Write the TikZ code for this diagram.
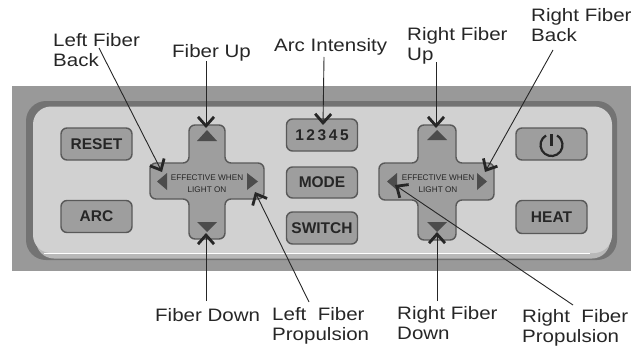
\documentclass[tikz,border=0pt]{standalone}
\usepackage{fontspec}
\setmainfont{Liberation Sans}
\newfontfamily\calloutfont[FakeStretch=1.14]{Liberation Sans}
\usetikzlibrary{arrows.meta}
\definecolor{panelgray}{gray}{0.6}
\definecolor{facegray}{gray}{0.82}
\definecolor{keygray}{gray}{0.62}
\definecolor{edgegray}{gray}{0.35}
\tikzset{
	keybox/.style={draw=edgegray,line width=1.4pt,fill=keygray,rounded corners=6pt,inner sep=0pt,font=\bfseries\fontsize{15.5}{15.5}\selectfont,text=black!85},
	callout/.style={font=\calloutfont\fontsize{18}{20}\selectfont,align=left,inner sep=0pt,text=black!85},
	pointer/.style={-{Straight Barb[length=9pt,width=16pt,line width=2.8pt]},line width=0.9pt,black!85},
	padtri/.style={fill=black!70,draw=none},
	padtext/.style={font=\fontsize{8.2}{12}\selectfont,align=center,inner sep=0pt,text=black!85}
}
\begin{document}
\begin{tikzpicture}[x=1pt,y=-1pt]
	\useasboundingbox (0,0) rectangle (631,345);

	% panel
	\fill[panelgray] (12,86) rectangle (631,271);
	\fill[black!55,rounded corners=20pt] (26,101) rectangle (617,260);
	\fill[black!28,rounded corners=18pt] (36,110) rectangle (610,258.5);
	\fill[facegray,rounded corners=18pt] (33,106.5) rectangle (612,253);
	\draw[white,line width=0.8pt] (44,253.5) -- (590,253.5);

	% buttons
	\node[keybox,minimum width=71pt,minimum height=32pt] (reset) at (96.5,144) {RESET};
	\node[keybox,minimum width=71pt,minimum height=32pt] (arc) at (96.5,216.5) {ARC};
	\node[keybox,minimum width=71pt,minimum height=32pt] (intensity) at (322,135) {1\,2\,3\,4\,5};
	\node[keybox,minimum width=71pt,minimum height=31pt] (mode) at (322,182.5) {MODE};
	\node[keybox,minimum width=71pt,minimum height=32pt] (switch) at (322,228) {SWITCH};
	\node[keybox,minimum width=71pt,minimum height=32pt] (power) at (551.5,144) {};
	\node[keybox,minimum width=71pt,minimum height=33pt] (heat) at (551.5,217) {HEAT};

	% power symbol
	\draw[line width=2.2pt,black!85] (546,135.5) arc[start angle=120,end angle=420,radius=11pt];
	\draw[line width=2.2pt,black!85] (551.5,134) -- (551.5,146);

	% left pad
	\draw[draw=edgegray,line width=1.4pt,fill=keygray,rounded corners=6pt]
		(189,125) -- (225,125) -- (225,163) -- (264,163) -- (264,199) -- (225,199) -- (225,239) -- (189,239) -- (189,199) -- (150,199) -- (150,163) -- (189,163) -- cycle;
	\fill[padtri] (197,141) -- (207,130) -- (217,141) -- cycle;
	\fill[padtri] (197,222) -- (207,232) -- (217,222) -- cycle;
	\fill[padtri] (167,173) -- (157,181.5) -- (167,190) -- cycle;
	\fill[padtri] (247,173) -- (258,181.5) -- (247,190) -- cycle;
	\node[padtext] (lefttext) at (207,184) {EFFECTIVE WHEN\\LIGHT ON};

	% right pad
	\draw[draw=edgegray,line width=1.4pt,fill=keygray,rounded corners=6pt]
		(418,125) -- (456,125) -- (456,163) -- (494,163) -- (494,200) -- (456,200) -- (456,240) -- (418,240) -- (418,200) -- (379,200) -- (379,163) -- (418,163) -- cycle;
	\fill[padtri] (427,140) -- (437,130) -- (447,140) -- cycle;
	\fill[padtri] (427,222) -- (437,232) -- (447,222) -- cycle;
	\fill[padtri] (397,173) -- (387,181.5) -- (397,190) -- cycle;
	\fill[padtri] (477,173) -- (487,181.5) -- (477,190) -- cycle;
	\node[padtext] (righttext) at (438,184) {EFFECTIVE WHEN\\LIGHT ON};

	% labels
	\node[callout,anchor=north west] (lback) at (53,33) {Left Fiber\\Back};
	\node[callout,anchor=north west] (lup) at (172,44) {Fiber Up};
	\node[callout,anchor=north west] (arcint) at (274,38) {Arc Intensity};
	\node[callout,anchor=north west] (rup) at (407,27) {Right Fiber\\Up};
	\node[callout,anchor=north west] (rback) at (531,8) {Right Fiber\\Back};
	\node[callout,anchor=north west] (ldown) at (155,308) {Fiber Down};
	\node[callout,anchor=north west] (lprop) at (272,307) {Left\ \ Fiber\\Propulsion};
	\node[callout,anchor=north west] (rdown) at (397,306) {Right Fiber\\Down};
	\node[callout,anchor=north west] (rprop) at (522,309) {Right\ \ Fiber\\Propulsion};

	% free ends
	\coordinate (lbackstart) at (99,48);
	\coordinate (lbackend) at (162,172);
	\coordinate (lupstart) at (206,61);
	\coordinate (lupend) at (206,128);
	\coordinate (arcstart) at (324,57);
	\coordinate (arcend) at (323,125);
	\coordinate (rupstart) at (436,62);
	\coordinate (rupend) at (436,128);
	\coordinate (rbackstart) at (553,50);
	\coordinate (rbackend) at (485,172);
	\coordinate (ldownstart) at (206,301);
	\coordinate (ldownend) at (206,233);
	\coordinate (lpropstart) at (309,302);
	\coordinate (lpropend) at (255,192);
	\coordinate (rdownstart) at (437,301);
	\coordinate (rdownend) at (437,232);
	\coordinate (rpropstart) at (573,305);
	\coordinate (rpropend) at (395,185);

	% pointers
	\draw[pointer] (lbackstart) -- (lbackend);
	\draw[pointer] (lupstart) -- (lupend);
	\draw[pointer] (arcstart) -- (arcend);
	\draw[pointer] (rupstart) -- (rupend);
	\draw[pointer] (rbackstart) -- (rbackend);
	\draw[pointer] (ldownstart) -- (ldownend);
	\draw[pointer] (lpropstart) -- (lpropend);
	\draw[pointer] (rdownstart) -- (rdownend);
	\draw[pointer] (rpropstart) -- (rpropend);
\end{tikzpicture}
\end{document}
